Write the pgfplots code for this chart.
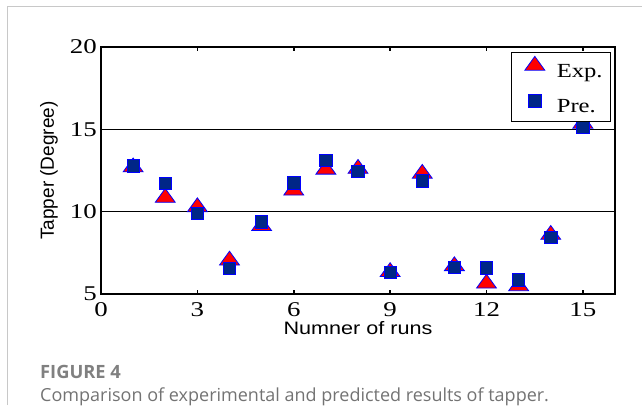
\documentclass[border=0pt]{standalone}
\usepackage{fontspec}
\usepackage{pgfplots}
\pgfplotsset{compat=1.18}
\setmainfont{Liberation Serif}
\newfontfamily\tickfont[FakeStretch=1.28]{Liberation Serif}
\newfontfamily\legfont[FakeStretch=1.23]{Liberation Serif}
\newfontfamily\labfont[FakeStretch=1.2]{Liberation Sans}
\newfontfamily\ylabfont{Liberation Sans}
\newfontfamily\capfont{Open Sans}
\definecolor{navy}{RGB}{0,38,135}
\definecolor{capgray}{RGB}{128,128,128}
\definecolor{captext}{RGB}{115,115,115}
\definecolor{framegray}{RGB}{200,200,200}

\pgfplotstableread{
x exp pre
1 12.70 12.79
2 10.85 11.72
3 10.28 9.88
4 7.04 6.57
5 9.13 9.38
6 11.29 11.75
7 12.56 13.11
8 12.61 12.44
9 6.34 6.31
10 12.31 11.87
11 6.70 6.61
12 5.64 6.59
13 5.48 5.86
14 8.60 8.45
15 15.35 15.15
}\datatable

\begin{document}
\begin{tikzpicture}[x=1pt,y=1pt]
\path[use as bounding box] (0,0) rectangle (642,405);
\draw[framegray, line width=1pt] (7,0) -- (7,398) -- (642,398);
\begin{axis}[
 at={(101pt,111pt)}, anchor=south west,
 scale only axis, width=514pt, height=247pt,
 xmin=0, xmax=16, ymin=5, ymax=20,
 xtick={0,3,...,15}, ytick={5,10,15,20},
 tick align=inside, major tick length=4pt,
 tick style={black, line width=1.5pt},
 axis line style={line width=2.5pt},
 ymajorgrids, grid style={black, line width=1pt},
 /pgf/number format/assume math mode=true,
 tick label style={font=\tickfont\fontsize{21}{21}\selectfont, inner sep=0pt},
 xticklabel style={yshift=-8pt},
 yticklabel style={xshift=-4pt},
 xlabel={Numner of runs},
 xlabel style={font=\labfont\fontsize{18}{18}\selectfont, at={(axis description cs:0.5,-0.162)}, anchor=base, inner sep=0pt},
 ylabel={Tapper (Degree)},
 ylabel style={font=\ylabfont\fontsize{19}{19}\selectfont, at={(axis description cs:-0.0837,0.5)}, anchor=south, inner sep=0pt},
 legend style={draw=black, line width=0.8pt, fill=white,
   font=\legfont\fontsize{20}{20}\selectfont,
   at={(axis description cs:0.9922,0.9798)}, anchor=north east,
   inner xsep=8pt, inner ysep=4pt, column sep=11pt, row sep=11pt,
   nodes={inner xsep=0pt, inner ysep=0pt, text height=15.5pt, text depth=5pt}},
 legend cell align=left,
 legend image code/.code={\path[draw=none,fill=none] (0pt,-2pt) rectangle (26pt,14pt); \draw[#1,only marks] plot coordinates {(15pt,6.6pt)};},
]
\addplot[only marks, mark=triangle*, mark size=11.5pt,
  mark options={fill=red, draw=blue, line width=0.8pt, yscale=0.8}]
  table[x=x, y=exp] {\datatable};
\addlegendentry{Exp.}
\addplot[only marks, mark=square*, mark size=6.2pt,
  mark options={fill=navy, draw=blue, line width=0.8pt}]
  table[x=x, y=pre] {\datatable};
\addlegendentry{Pre.}
\end{axis}
\node[anchor=base west, inner sep=0pt, text=capgray, font=\capfont\bfseries\fontsize{18.3}{18.3}\selectfont] at (40,27) {FIGURE 4};
\node[anchor=base west, inner sep=0pt, text=captext, font=\capfont\fontsize{18}{18}\selectfont] at (40,4) {Comparison of experimental and predicted results of tapper.};
\end{tikzpicture}
\end{document}
